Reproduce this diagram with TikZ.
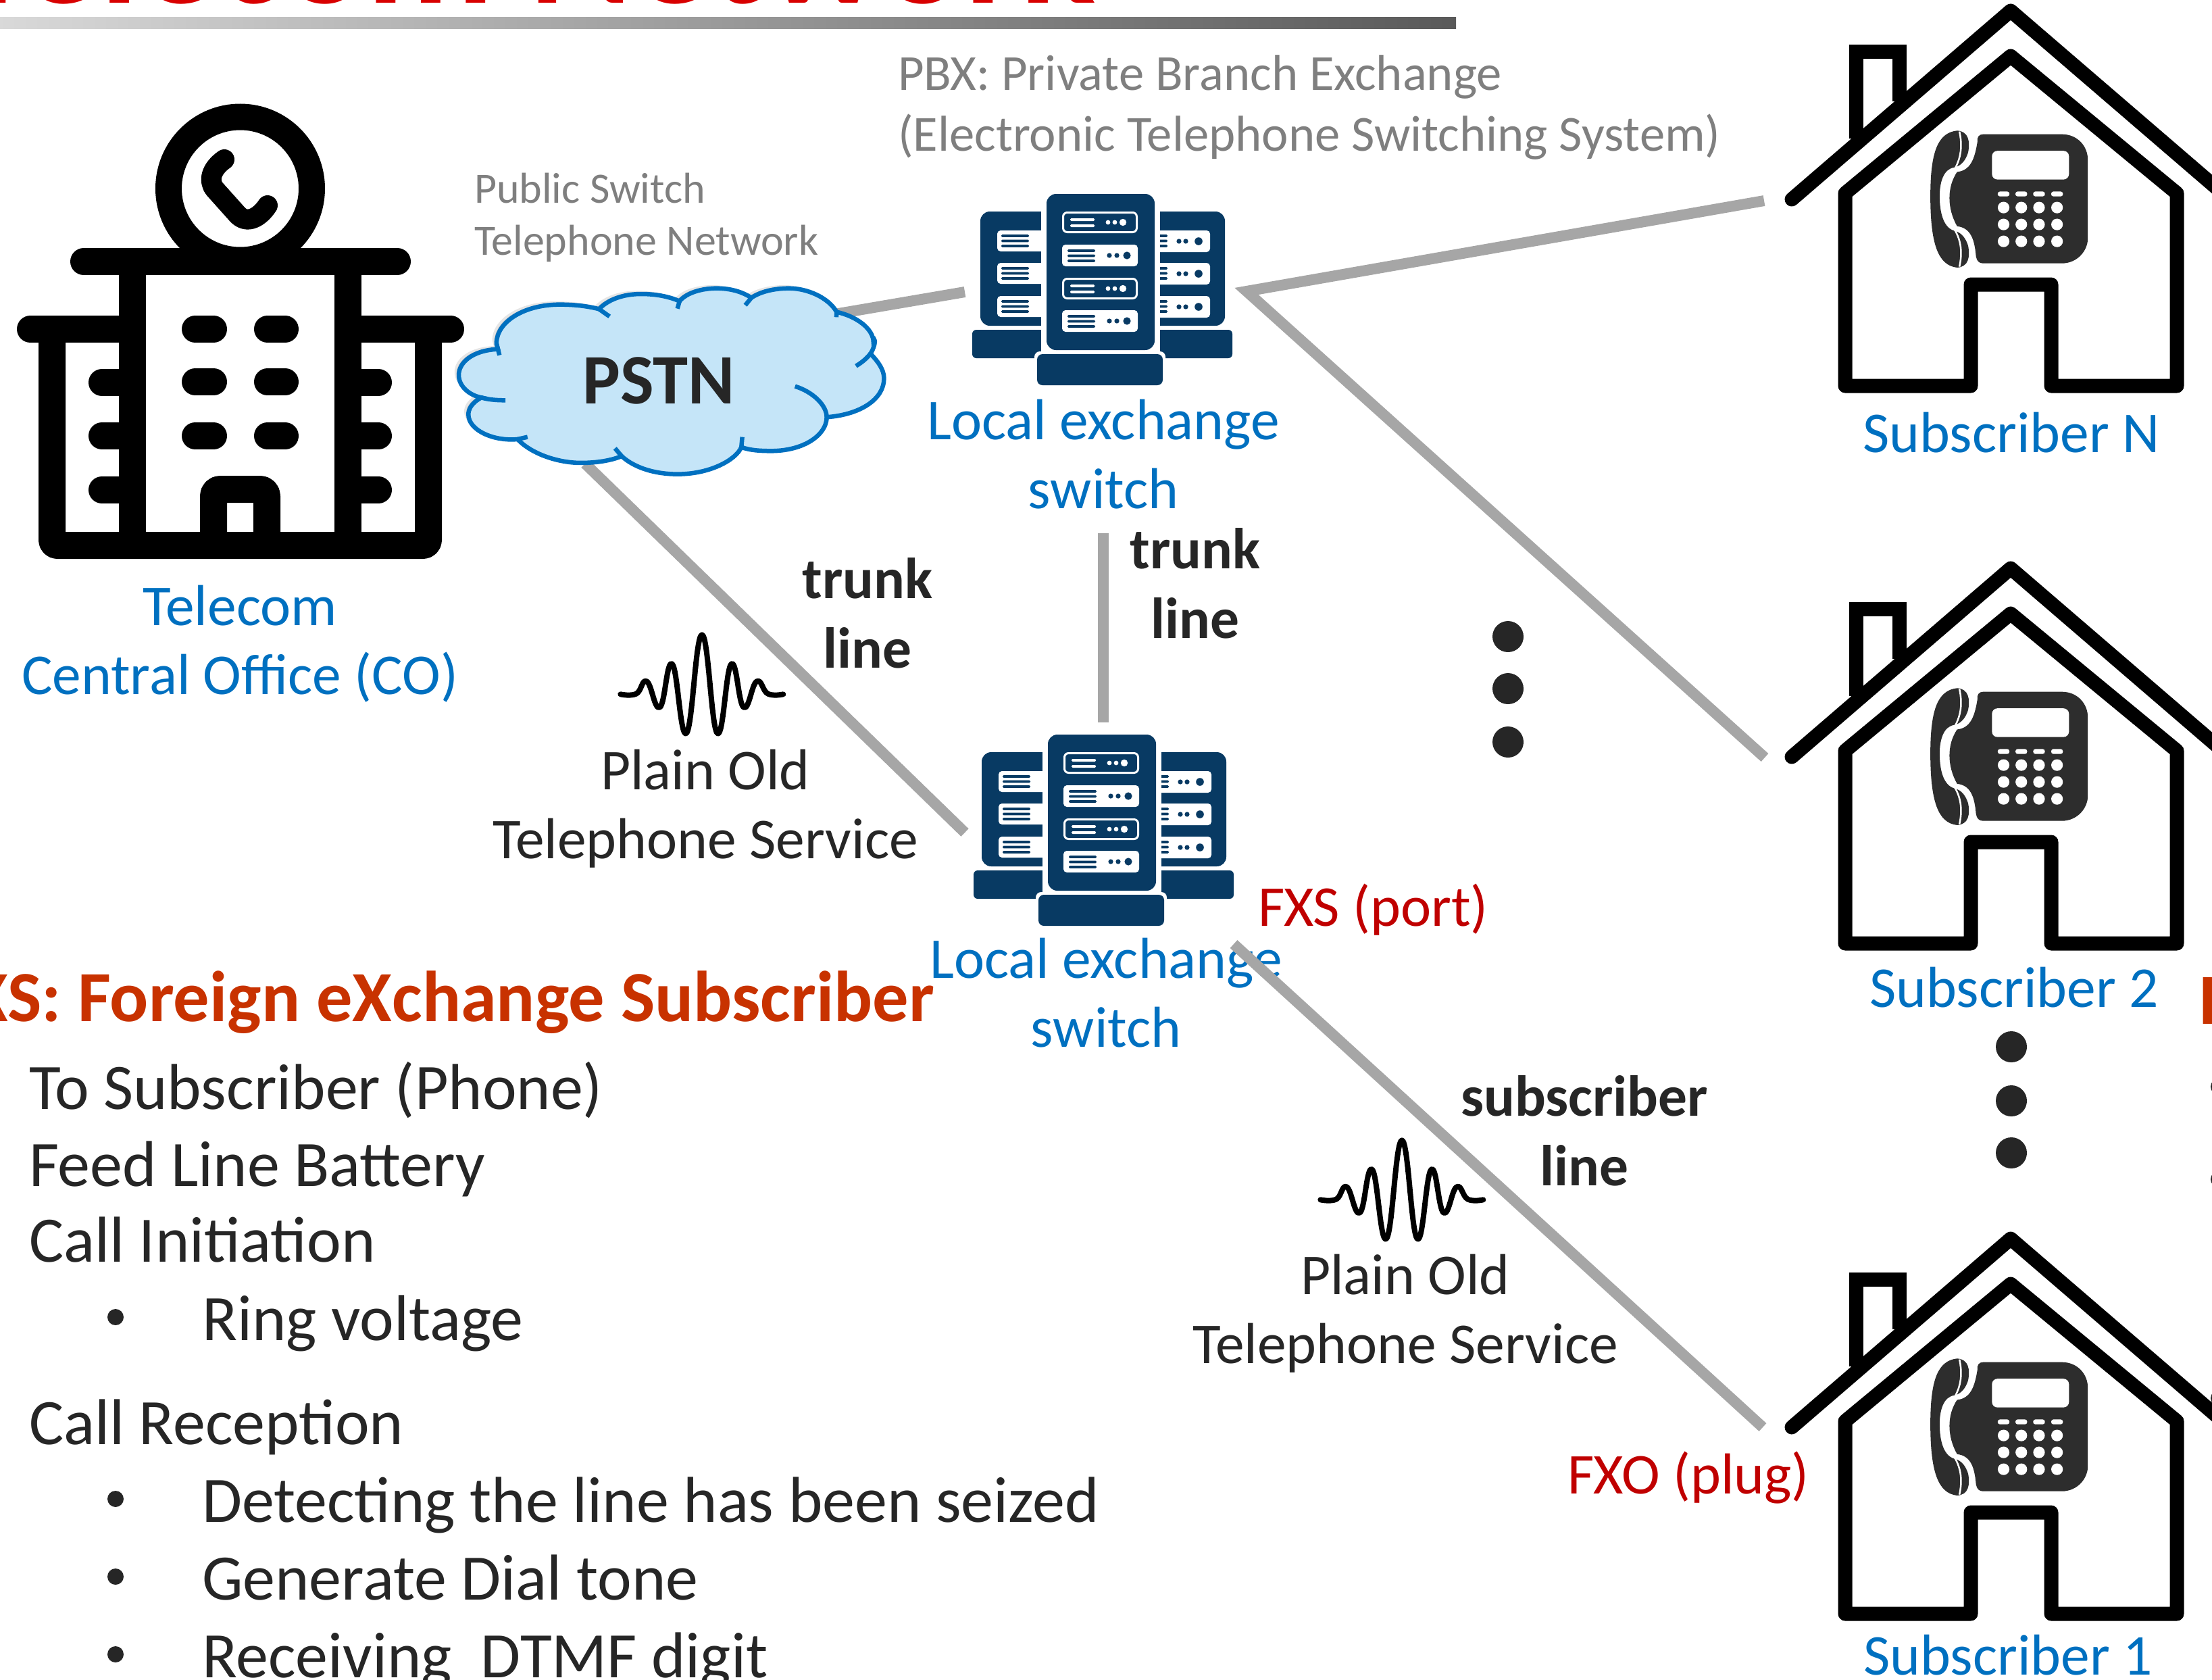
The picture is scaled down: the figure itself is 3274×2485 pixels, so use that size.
\documentclass[tikz,border=0pt]{standalone}
\usepackage{fontspec}
\setmainfont{Carlito}
\definecolor{navy}{HTML}{083A63}
\definecolor{wire}{HTML}{A6A6A6}
\definecolor{cloudfill}{HTML}{C5E5F8}
\definecolor{msblue}{HTML}{0070C0}
\definecolor{ink}{HTML}{262626}
\definecolor{fxred}{HTML}{C00000}
\definecolor{headred}{HTML}{C83200}
\definecolor{titlered}{HTML}{D80000}
\definecolor{greytxt}{HTML}{7F7F7F}
\definecolor{phonedark}{HTML}{2D2D2D}
\tikzset{
  txt/.style={inner sep=0pt,outer sep=0pt,anchor=base,align=center},
  lefttxt/.style={inner sep=0pt,outer sep=0pt,anchor=base west},
  bluelbl/.style={txt,text=msblue,font=\fontsize{85.5}{102}\selectfont},
  boldlbl/.style={txt,text=ink,font=\fontsize{85.5}{103}\selectfont\bfseries},
  inklbl/.style={txt,text=ink,font=\fontsize{85.5}{102}\selectfont},
  redlbl/.style={lefttxt,text=fxred,font=\fontsize{85.5}{102}\selectfont},
  listlbl/.style={lefttxt,text=ink,font=\fontsize{96}{115}\selectfont},
  wireline/.style={draw=wire,line width=16pt,line cap=butt,line join=miter},
  blackline/.style={draw=black,line width=21pt,line join=round,line cap=round},
  bldg/.style={draw=black,line width=40pt,line cap=round,line join=round},
  wave/.style={draw=black,line width=8pt,line cap=round,line join=round},
  dotmark/.style={circle,fill=#1,draw=none,inner sep=0pt,minimum size=46pt},
  dotmark/.default=ink,
  bulletmark/.style={circle,fill=ink,inner sep=0pt,minimum size=24pt}
}
% server units
\newcommand{\srvfilled}[1]{%
  \fill[white,rounded corners=5pt] (1572,#1) rectangle (1684,#1+32);
  \foreach \dy in {9,16.5,24}{\fill[navy,rounded corners=1.5pt] (1580,#1+\dy-1.8) rectangle (1621,#1+\dy+1.8);}
  \fill[navy] (1642,#1+16) circle (3.6pt) (1653,#1+16) circle (3.6pt) (1668,#1+16) circle (5.6pt);
}
\newcommand{\srvoutlined}[1]{%
  \draw[white,line width=3pt,rounded corners=6pt] (1573.5,#1+1.5) rectangle (1682.5,#1+30.5);
  \foreach \dy in {12,21}{\fill[white,rounded corners=1.5pt] (1584,#1+\dy-2) rectangle (1620,#1+\dy+2);}
  \fill[white] (1640,#1+16) circle (3.4pt) (1650,#1+16) circle (3.4pt) (1662,#1+16) circle (5.2pt);
}
\newcommand{\srvside}[1]{%
  \fill[white,rounded corners=5pt] (1476,#1) rectangle (1560,#1+31);
  \foreach \dy in {8,15.5,23}{\fill[navy,rounded corners=1.5pt] (1482,#1+\dy-1.8) rectangle (1523,#1+\dy+1.8);}
  \fill[white,rounded corners=5pt] (1700,#1) rectangle (1791,#1+32);
  \foreach \dy in {8,15.5,23}{\fill[navy,rounded corners=1.5pt] (1700,#1+\dy-1.8) rectangle (1728,#1+\dy+1.8);}
  \fill[navy] (1745,#1+16) circle (3.6pt) (1755,#1+16) circle (3.6pt) (1774,#1+16) circle (5.8pt);
}
\newcommand{\serverrack}[2]{%
\begin{scope}[shift={(#1,#2)}]
  \fill[navy,rounded corners=14pt] (1451,482) -- (1451,313) -- (1813,313) -- (1813,482) -- cycle;
  \fill[white] (1541,300) rectangle (1717,490);
  \fill[navy,rounded corners=6pt] (1439,488) rectangle (1824,530);
  \srvside{341}\srvside{389}\srvside{438}
  \fill[white] (1541,285) rectangle (1717,530);
  \fill[navy,rounded corners=14pt] (1549,518) -- (1549,287) -- (1709,287) -- (1709,518) -- cycle;
  \fill[white,rounded corners=8pt] (1531,520) rectangle (1725,574);
  \fill[navy,rounded corners=8pt] (1535,524) rectangle (1721,570);
  \srvoutlined{313}\srvfilled{362}\srvoutlined{411}\srvfilled{459}
\end{scope}}
% house with desk phone
\newcommand{\house}[1]{%
\begin{scope}[shift={(0,#1)}]
  \draw[blackline,line cap=butt,line join=miter] (2747,205) -- (2747,76) -- (2811,76) -- (2811,150);
  \draw[blackline] (2652,295) -- (2976,16) -- (3320,312);
  \draw[blackline] (2731,286) -- (2976,83) -- (3222,286) -- (3222,571) -- (3036,571) -- (3036,421) -- (2917,421) -- (2917,571) -- (2731,571) -- cycle;
  \begin{scope}[shift={(2600,0)},x=.43pt,y=-.4464pt]
    \fill[phonedark] (760,470) .. controls (750,530) and (735,565) .. (690,570) .. controls (655,620) and (655,690) .. (690,750) .. controls (735,755) and (750,790) .. (755,850) .. controls (758,865) and (765,873) .. (780,873) -- (1050,873) .. controls (1105,873) and (1140,830) .. (1140,790) -- (1140,530) .. controls (1140,485) and (1105,445) .. (1050,445) -- (780,445) .. controls (765,445) and (758,455) .. (760,470) -- cycle;
    \fill[phonedark] (690,433) .. controls (625,440) and (598,500) .. (598,650) .. controls (598,810) and (625,880) .. (690,887) .. controls (730,885) and (735,850) .. (728,815) .. controls (720,790) and (705,770) .. (680,765) .. controls (645,755) and (630,710) .. (630,650) .. controls (630,600) and (645,560) .. (680,555) .. controls (705,550) and (720,530) .. (728,505) .. controls (735,470) and (730,435) .. (690,433) -- cycle;
    \draw[white,line width=2.5pt] (698,436) .. controls (708,480) and (705,520) .. (682,560);
    \draw[white,line width=2.5pt] (682,762) .. controls (705,800) and (708,840) .. (698,884);
    \fill[white,rounded corners=8pt] (810,500) rectangle (1075,595);
    \foreach \kx in {850,911,972,1034}{
      \fill[white,rounded corners=3pt] (\kx-20,635) rectangle (\kx+20,651);
      \foreach \ky in {688,744,800}{\fill[white] (\kx,\ky) circle (8.6pt);}
    }
  \end{scope}
\end{scope}}
\newcommand{\pulse}[2]{%
\begin{scope}[shift={(#1,#2)},x=.3333pt,y=-.3333pt]
  \draw[wave] plot[smooth,tension=.75] coordinates {(115,382) (185,380) (232,325) (290,440) (345,248) (408,555) (477,118) (545,555) (607,248) (662,440) (720,325) (770,380) (838,382)};
\end{scope}}
\def\cloudpath{(195,410) .. controls (110,415) and (65,470) .. (65,525) .. controls (65,575) and (100,615) .. (140,625) .. controls (105,650) and (97,680) .. (97,700) .. controls (97,770) and (180,820) .. (260,810) .. controls (310,880) and (400,915) .. (470,915) .. controls (520,915) and (570,905) .. (605,885) .. controls (650,940) and (720,965) .. (790,965) .. controls (900,965) and (985,900) .. (1002,845) .. controls (1030,860) and (1070,862) .. (1100,862) .. controls (1210,862) and (1285,790) .. (1285,712) .. controls (1400,700) and (1475,630) .. (1475,540) .. controls (1475,500) and (1455,465) .. (1430,430) .. controls (1450,390) and (1445,350) .. (1440,380) .. controls (1440,320) and (1385,265) .. (1318,245) .. controls (1290,180) and (1220,140) .. (1160,140) .. controls (1110,140) and (1065,155) .. (1035,182) .. controls (1005,155) and (965,140) .. (920,140) .. controls (870,140) and (820,160) .. (797,197) .. controls (760,175) and (715,165) .. (670,165) .. controls (610,165) and (560,190) .. (530,232) .. controls (490,218) and (445,212) .. (400,212) .. controls (280,212) and (190,290) .. (190,385) -- cycle}
\begin{document}
\begin{tikzpicture}[x=1pt,y=-1pt]
\useasboundingbox (0,0) rectangle (3274,2485);
\clip (0,0) rectangle (3274,2485);
% title band
\node[lefttxt,text=titlered,font=\fontsize{232}{270}\selectfont\bfseries] (title) at (-63,4) {Telecom Network};
\shade[left color=black!15,right color=black!65] (0,25) rectangle (2155,42);
% connector end points
\coordinate (cloudNE) at (1235,465);
\coordinate (cloudS) at (866,686);
\coordinate (srvAwest) at (1428,432);
\coordinate (srvBwest) at (1428,1232);
\coordinate (srvAeast) at (1845,431);
\coordinate (subNend) at (2611,297);
\coordinate (subTwoend) at (2612,1121);
\coordinate (srvAsouth) at (1633,789);
\coordinate (srvBnorth) at (1633,1069);
\coordinate (srvBeast) at (1826,1397);
\coordinate (subOneend) at (2609,2112);
% connectors
\draw[wireline] (cloudNE) -- (srvAwest);
\draw[wireline] (cloudS) -- (srvBwest);
\draw[wireline] (subNend) -- (srvAeast) -- (subTwoend);
\draw[wireline] (srvAsouth) -- (srvBnorth);
% central office building
\draw[black,line width=39pt,fill=white] (355.5,279) circle (106pt);
\draw[black,line width=30pt,line cap=round,line join=round] (332,236) .. controls (312,250) and (308,268) .. (318,280) -- (352,318) .. controls (366,332) and (384,322) .. (396,304);
\draw[bldg] (124,387) -- (588,387);
\draw[bldg] (45,487) -- (196,487);
\draw[bldg] (515,487) -- (667,487);
\draw[bldg,line cap=butt] (196,387) -- (196,807);
\draw[bldg,line cap=butt] (515,387) -- (515,807);
\draw[bldg,rounded corners=8pt,line cap=butt] (77,487) -- (77,807) -- (634,807) -- (634,487);
\foreach \wy in {487,565,645}{
  \draw[bldg] (289,\wy) -- (316,\wy);
  \draw[bldg] (396,\wy) -- (422,\wy);
}
\foreach \sy in {566,645,725}{
  \draw[bldg] (151,\sy) -- (196,\sy);
  \draw[bldg] (515,\sy) -- (560,\sy);
}
\draw[bldg,rounded corners=10pt,line cap=butt] (316,807) -- (316,724) -- (395,724) -- (395,807);
\node[bluelbl] (co) at (355,1027) {Telecom\\Central Office (CO)};
% cloud
\begin{scope}[shift={(650,380)},x=.4464pt,y=-.3333pt]
  \fill[black,opacity=.10] [shift={(-14,-14)}] \cloudpath;
  \fill[black,opacity=.14] [shift={(-7,-7)}] \cloudpath;
  \filldraw[fill=cloudfill,draw=msblue,line width=6.5pt] \cloudpath;
  \draw[msblue,line width=6.5pt]
    (1430,430) .. controls (1415,455) and (1400,470) .. (1382,485)
    (1285,712) .. controls (1285,660) and (1240,600) .. (1180,575)
    (1318,245) -- (1317,268)
    (1035,182) -- (1015,215)
    (797,197) -- (790,230)
    (530,232) -- (565,265)
    (190,385) -- (200,437)
    (140,625) .. controls (165,635) and (195,637) .. (220,637)
    (260,810) -- (293,800)
    (605,885) -- (583,850)
    (1002,845) -- (1005,800);
\end{scope}
\node[txt,text=ink,font=\fontsize{105}{120}\selectfont\bfseries] (pstn) at (975,597) {PSTN};
\node[txt,text=greytxt,font=\fontsize{64}{77}\selectfont,anchor=base west,align=left] (pstnnote) at (702,377) {Public Switch\\Telephone Network};
\node[txt,text=greytxt,font=\fontsize{74.7}{90}\selectfont,anchor=base west,align=left] (pbxnote) at (1329,223) {PBX: Private Branch Exchange\\(Electronic Telephone Switching System)};
% switches
\serverrack{0}{0}
\serverrack{2}{800}
\node[bluelbl] (swa) at (1633,752) {Local exchange\\switch};
\node[bluelbl] (swb) at (1637,1549) {Local exchange\\switch};
% subscriber wire drawn over the label, as in the reference
\draw[wireline] (srvBeast) -- (subOneend);
% right-edge list dot behind the roof
\node[bulletmark] (r3) at (3284,2069) {};
% houses
\house{0}
\house{825}
\house{1817}
\node[bluelbl] (subn) at (2977,669) {Subscriber N};
\node[bluelbl] (sub2) at (2981,1490) {Subscriber 2};
\node[bluelbl] (sub1) at (2972,2478) {Subscriber 1};
% line labels
\node[boldlbl] (trunka) at (1284,988) {trunk\\line};
\node[boldlbl] (trunkb) at (1769,944) {trunk\\line};
\node[boldlbl] (subline) at (2345,1754) {subscriber\\line};
\pulse{880}{900}
\pulse{1916}{1648}
\node[inklbl] (pots1) at (1044,1270) {Plain Old\\Telephone Service};
\node[inklbl] (pots2) at (2080,2017) {Plain Old\\Telephone Service};
\node[redlbl] (fxs) at (1862,1370) {FXS (port)};
\node[redlbl] (fxo) at (2320,2210) {FXO (plug)};
% ellipsis dots
\node[dotmark] (da) at (2232,942) {};
\node[dotmark] (db) at (2232,1019) {};
\node[dotmark] (dc) at (2232,1098) {};
\node[dotmark] (dd) at (2977,1549) {};
\node[dotmark] (de) at (2977,1629) {};
\node[dotmark] (df) at (2977,1706) {};
% FXS list
\node[inner sep=0pt,anchor=base east,text=headred,font=\fontsize{106.5}{120}\selectfont\bfseries] (fxshead) at (1383,1511) {FXS: Foreign eXchange Subscriber};
\node[inner sep=0pt,anchor=base west,text=headred,font=\fontsize{106.5}{120}\selectfont\bfseries] (fxohead) at (3255,1515) {F};
\node[listlbl] (l1) at (43,1641) {To Subscriber (Phone)};
\node[listlbl] (l2) at (43,1755) {Feed Line Battery};
\node[listlbl] (l3) at (43,1867) {Call Initiation};
\node[bulletmark] (b1) at (171,1949) {};
\node[listlbl] (l4) at (299,1983) {Ring voltage};
\node[listlbl] (l5) at (43,2137) {Call Reception};
\node[bulletmark] (b2) at (171,2218) {};
\node[listlbl] (l6) at (299,2252) {Detecting the line has been seized};
\node[bulletmark] (b3) at (171,2333) {};
\node[listlbl] (l7) at (299,2367) {Generate Dial tone};
\node[bulletmark] (b4) at (171,2448) {};
\node[listlbl] (l8) at (299,2482) {Receiving~ DTMF digit};
% dots cut by the right edge
\node[bulletmark] (r1) at (3284,1608) {};
\node[bulletmark] (r2) at (3284,1745) {};
\end{tikzpicture}
\end{document}
